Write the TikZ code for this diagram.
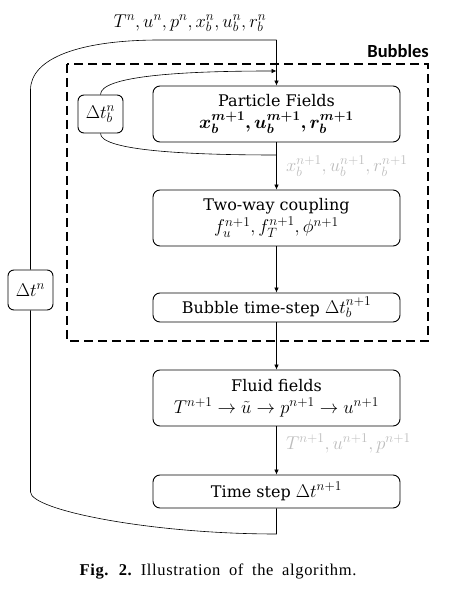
\documentclass[tikz,border=0pt]{standalone}
\usepackage{fix-cm}
\usepackage{fontspec}
\setmainfont{DejaVu Serif}
\newfontfamily\capfont[LetterSpace=4, WordSpace=1.8]{Liberation Serif}
\newfontfamily\judulfont{Carlito}
\usepackage{bm}
\usepackage{xcolor}
\usetikzlibrary{arrows.meta, positioning, calc}
\definecolor{abu}{gray}{0.74}
\DeclareMathSizes{16}{18.5}{13.5}{10}

\begin{document}
\begin{tikzpicture}[x=1pt, y=1pt,
    font=\fontsize{16}{22}\selectfont,
    kotak/.style={draw, line width=0.9pt, rounded corners=7pt, align=center,
                  minimum width=247pt, inner sep=2pt},
    kecil/.style={draw, line width=0.9pt, rounded corners=6pt,
                  minimum width=45pt, inner sep=1pt},
    panah/.style={-{Latex[length=5pt, width=4.5pt]}, line width=0.6pt},
    garis/.style={line width=0.6pt},
    ket/.style={text=abu, anchor=west, xshift=6pt},
    batas/.style={line width=2.2pt, dash pattern=on 9pt off 5pt}
  ]
    \useasboundingbox (0,0) rectangle (448,595);
    \node[kotak, minimum height=56pt] (partikel) at (276.5,481)
      {Particle Fields\\ $\bm{x_b^{m+1}, u_b^{m+1}, r_b^{m+1}}$};
    \node[kotak, minimum height=56pt] (kopling) at (276.5,377)
      {Two-way coupling\\ $f_u^{n+1}, f_T^{n+1}, \phi^{n+1}$};
    \node[kotak, minimum height=29pt] (langkahb) at (276.5,287.5)
      {Bubble time-step $\Delta t_b^{n+1}$};
    \node[kotak, minimum height=56pt] (fluida) at (276.5,197)
      {Fluid fields\\ $T^{n+1} \rightarrow \tilde{u} \rightarrow p^{n+1} \rightarrow u^{n+1}$};
    \node[kotak, minimum height=33pt] (langkah) at (276.5,103.5)
      {Time step $\Delta t^{n+1}$};
    \node[kecil, minimum height=38pt] (dtb) at (100.5,481) {$\Delta t_b^n$};
    \node[kecil, minimum height=40pt] (dtn) at (30.5,305) {$\Delta t^n$};
    \draw[batas] (67,531) rectangle (428,254);
    \node[font=\judulfont\bfseries\fontsize{18.5}{20}\selectfont, anchor=south east,
          inner sep=0pt] (gelembung) at (429,537) {Bubbles};
    \node (awal) at (190,572) {$T^n, u^n, p^n, x_b^n, u_b^n, r_b^n$};
    \coordinate (atas) at (276.5,555);
    \coordinate (masuk) at (276.5,524);
    \coordinate (keluar) at (276.5,440);
    \coordinate (bawah) at (276.5,61);
    \draw[panah] (atas) -- (partikel);
    \draw[panah] (partikel) -- node[ket] {$x_b^{n+1}, u_b^{n+1}, r_b^{n+1}$} (kopling);
    \draw[panah] (kopling) -- (langkahb);
    \draw[panah] (langkahb) -- (fluida);
    \draw[panah] (fluida) -- node[ket, pos=0.35] {$T^{n+1}, u^{n+1}, p^{n+1}$} (langkah);
    \draw[panah] (dtb.north) .. controls +(0,18) and +(-100,0) .. (masuk);
    \draw[garis] (dtb.south) .. controls +(0,-16) and +(-100,0) .. (keluar);
    \draw[garis] (atas) -- (160,555) .. controls (80,555) and (30.5,537) .. (30.5,505) -- (dtn.north);
    \draw[garis] (dtn.south) -- (30.5,103) .. controls (30.5,85) and (150,61) .. (bawah) -- (langkah.south);
    \node[font=\capfont\fontsize{16.5}{18}\selectfont] (keterangan) at (218,23)
      {\textbf{Fig. 2.}\enspace Illustration of the algorithm.};
\end{tikzpicture}
\end{document}
